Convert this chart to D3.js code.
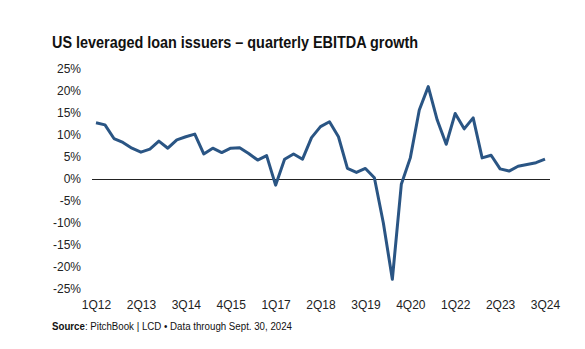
<!DOCTYPE html>
<html>
<head>
<meta charset="utf-8">
<script src="https://cdn.jsdelivr.net/npm/d3@7"></script>
<style>
  body { margin: 0; background: #fff; }
  svg text { font-family: "Liberation Sans", Arial, sans-serif; }
</style>
</head>
<body>
<div id="chart"></div>
<script>
const quarters = [];
for (let yr = 2012; yr <= 2024; yr++) {
    for (let q = 1; q <= 4; q++) {
        if (yr === 2024 && q === 4) break;
        quarters.push(`${q}Q${String(yr).slice(2)}`);
    }
}

const growth = [
    12.8, 12.3, 9.2, 8.3,
    7.0, 6.1, 6.8, 8.6,
    7.0, 8.9, 9.6, 10.2,
    5.7, 7.0, 6.0, 7.0,
    7.1, 5.8, 4.3, 5.3,
    -1.4, 4.5, 5.7, 4.5,
    9.4, 11.9, 13.0, 9.6,
    2.4, 1.5, 2.4, 0.3,
    -10.0, -22.8, -1.2, 4.8,
    15.7, 21.0, 13.4, 7.9,
    14.9, 11.4, 13.9, 4.8,
    5.4, 2.3, 1.8, 2.9,
    3.3, 3.7, 4.5
];

const tickLabels = ["1Q12", "2Q13", "3Q14", "4Q15", "1Q17", "2Q18", "3Q19", "4Q20", "1Q22", "2Q23", "3Q24"];
const yTicks = [-25, -20, -15, -10, -5, 0, 5, 10, 15, 20, 25];

const width = 585, height = 349;

const svg = d3.select("#chart")
    .append("svg")
    .attr("width", width)
    .attr("height", height);

const x = d3.scalePoint()
    .domain(quarters)
    .range([96, 545]);

const y = d3.scaleLinear()
    .domain([-25, 25])
    .range([289, 69]);

// title
svg.append("text")
    .attr("x", 52)
    .attr("y", 48)
    .attr("textLength", 366)
    .attr("lengthAdjust", "spacingAndGlyphs")
    .style("font-size", "16px")
    .style("font-weight", "bold")
    .style("fill", "#111")
    .text("US leveraged loan issuers \u2013 quarterly EBITDA growth");

// y axis labels
const yAxis = svg.append("g")
    .attr("transform", "translate(81,0)")
    .call(d3.axisLeft(y).tickValues(yTicks).tickSize(0).tickPadding(0).tickFormat(d => d + "%"));
yAxis.select(".domain").remove();
yAxis.selectAll("text")
    .style("font-size", "12px")
    .style("fill", "#222")
    .style("font-family", "'Liberation Sans', Arial, sans-serif");

// x axis labels at bottom
const xAxis = svg.append("g")
    .attr("transform", "translate(0,300)")
    .call(d3.axisBottom(x).tickValues(tickLabels).tickSize(0).tickPadding(0));
xAxis.select(".domain").remove();
xAxis.selectAll("text")
    .style("font-size", "12px")
    .style("fill", "#222")
    .style("font-family", "'Liberation Sans', Arial, sans-serif");

// zero line
svg.append("line")
    .attr("x1", 92)
    .attr("x2", 550)
    .attr("y1", y(0) + 0.5)
    .attr("y2", y(0) + 0.5)
    .attr("stroke", "#222")
    .attr("stroke-width", 1);

// the series
const line = d3.line()
    .x((d, i) => x(quarters[i]))
    .y(d => y(d));

svg.append("path")
    .datum(growth)
    .attr("d", line)
    .attr("fill", "none")
    .attr("stroke", "#2a5584")
    .attr("stroke-width", 3)
    .attr("stroke-linejoin", "round");

// source note
const note = svg.append("text")
    .attr("x", 52)
    .attr("y", 330)
    .attr("textLength", 240)
    .attr("lengthAdjust", "spacingAndGlyphs")
    .style("font-size", "10px")
    .style("fill", "#111");
note.append("tspan").style("font-weight", "bold").text("Source");
note.append("tspan").text(": PitchBook | LCD \u2022 Data through Sept. 30, 2024");
</script>
</body>
</html>
